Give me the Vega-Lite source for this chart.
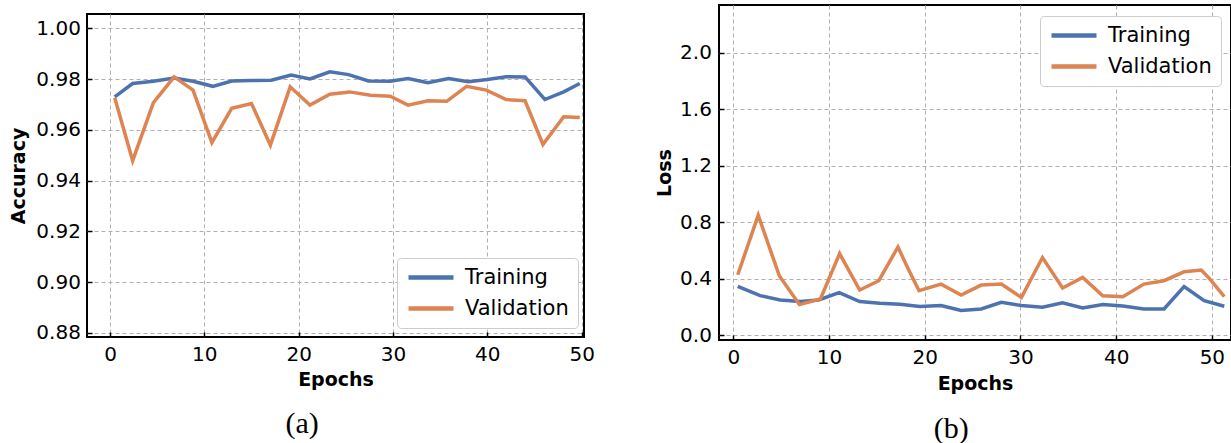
{
  "$schema": "https://vega.github.io/schema/vega-lite/v6.json",
  "padding": {"left": 8, "top": 4, "right": 0, "bottom": 0},
  "spacing": 58,
  "config": {
    "view": {"stroke": "#000000", "strokeWidth": 2},
    "axis": {
      "labelFont": "DejaVu Sans", "labelFontSize": 20, "labelColor": "#000000",
      "titleFont": "DejaVu Sans", "titleFontSize": 19, "titleFontWeight": "bold", "titleColor": "#000000",
      "gridColor": "#b0b0b0", "gridDash": [4, 3], "gridWidth": 1,
      "domain": false, "tickColor": "#000000", "tickSize": -5, "tickWidth": 1.5
    },
    "legend": {
      "symbolType": "stroke", "symbolSize": 2025, "symbolStrokeWidth": 4.5,
      "labelFont": "DejaVu Sans", "labelFontSize": 21, "labelColor": "#000000",
      "labelOffset": 9, "clipHeight": 21, "rowPadding": 9, "padding": 9,
      "fillColor": "#ffffff", "strokeColor": "#cccccc", "cornerRadius": 4
    },
    "title": {"font": "Liberation Serif", "fontSize": 30, "fontWeight": "normal", "color": "#000000", "anchor": "middle", "frame": "bounds"}
  },
  "resolve": {"scale": {"color": "independent"}, "legend": {"color": "independent"}},
  "hconcat": [
    {
      "spacing": 7,
      "vconcat": [
        {
          "width": 497,
          "height": 1,
          "view": {"stroke": null},
          "data": {"values": []},
          "mark": "point"
        },
        {
          "width": 497,
          "height": 323,
          "title": {"text": "(a)", "orient": "bottom", "offset": 20},
          "data": {"values": [
            {"epoch": 0.5, "value": 0.9730, "series": "Training"},
            {"epoch": 2.4, "value": 0.9783, "series": "Training"},
            {"epoch": 4.6, "value": 0.9792, "series": "Training"},
            {"epoch": 6.8, "value": 0.9805, "series": "Training"},
            {"epoch": 8.8, "value": 0.9792, "series": "Training"},
            {"epoch": 10.9, "value": 0.9772, "series": "Training"},
            {"epoch": 12.9, "value": 0.9793, "series": "Training"},
            {"epoch": 15.0, "value": 0.9795, "series": "Training"},
            {"epoch": 17.1, "value": 0.9796, "series": "Training"},
            {"epoch": 19.2, "value": 0.9816, "series": "Training"},
            {"epoch": 21.2, "value": 0.9801, "series": "Training"},
            {"epoch": 23.3, "value": 0.9829, "series": "Training"},
            {"epoch": 25.3, "value": 0.9818, "series": "Training"},
            {"epoch": 27.4, "value": 0.9793, "series": "Training"},
            {"epoch": 29.7, "value": 0.9792, "series": "Training"},
            {"epoch": 31.6, "value": 0.9803, "series": "Training"},
            {"epoch": 33.7, "value": 0.9786, "series": "Training"},
            {"epoch": 35.9, "value": 0.9803, "series": "Training"},
            {"epoch": 38.0, "value": 0.9790, "series": "Training"},
            {"epoch": 40.0, "value": 0.9799, "series": "Training"},
            {"epoch": 42.0, "value": 0.9810, "series": "Training"},
            {"epoch": 44.0, "value": 0.9809, "series": "Training"},
            {"epoch": 46.1, "value": 0.9720, "series": "Training"},
            {"epoch": 48.1, "value": 0.9750, "series": "Training"},
            {"epoch": 49.8, "value": 0.9783, "series": "Training"},
            {"epoch": 0.5, "value": 0.9727, "series": "Validation"},
            {"epoch": 2.4, "value": 0.9479, "series": "Validation"},
            {"epoch": 4.6, "value": 0.9708, "series": "Validation"},
            {"epoch": 6.8, "value": 0.9809, "series": "Validation"},
            {"epoch": 8.8, "value": 0.9757, "series": "Validation"},
            {"epoch": 10.8, "value": 0.9550, "series": "Validation"},
            {"epoch": 12.9, "value": 0.9685, "series": "Validation"},
            {"epoch": 15.0, "value": 0.9704, "series": "Validation"},
            {"epoch": 17.0, "value": 0.9540, "series": "Validation"},
            {"epoch": 19.1, "value": 0.9770, "series": "Validation"},
            {"epoch": 21.2, "value": 0.9698, "series": "Validation"},
            {"epoch": 23.3, "value": 0.9741, "series": "Validation"},
            {"epoch": 25.4, "value": 0.9750, "series": "Validation"},
            {"epoch": 27.6, "value": 0.9737, "series": "Validation"},
            {"epoch": 29.7, "value": 0.9733, "series": "Validation"},
            {"epoch": 31.6, "value": 0.9698, "series": "Validation"},
            {"epoch": 33.7, "value": 0.9715, "series": "Validation"},
            {"epoch": 35.7, "value": 0.9713, "series": "Validation"},
            {"epoch": 37.8, "value": 0.9772, "series": "Validation"},
            {"epoch": 39.9, "value": 0.9757, "series": "Validation"},
            {"epoch": 42.0, "value": 0.9720, "series": "Validation"},
            {"epoch": 44.0, "value": 0.9715, "series": "Validation"},
            {"epoch": 45.9, "value": 0.9543, "series": "Validation"},
            {"epoch": 48.1, "value": 0.9652, "series": "Validation"},
            {"epoch": 49.8, "value": 0.9649, "series": "Validation"}
          ]},
          "mark": {"type": "line", "strokeWidth": 3.5, "clip": true},
          "encoding": {
            "x": {"field": "epoch", "type": "quantitative",
              "scale": {"domain": [-2.44, 50.25], "nice": false, "zero": false},
              "axis": {"values": [0, 10, 20, 30, 40, 50], "title": "Epochs", "labelPadding": 12, "titlePadding": 6}},
            "y": {"field": "value", "type": "quantitative",
              "scale": {"domain": [0.8784, 1.0057], "nice": false, "zero": false},
              "axis": {"values": [0.88, 0.9, 0.92, 0.94, 0.96, 0.98, 1.0], "format": ".2f", "title": "Accuracy", "labelPadding": 11.6, "titlePadding": 7}},
            "color": {"field": "series", "type": "nominal",
              "scale": {"domain": ["Training", "Validation"], "range": ["#4c72b0", "#dd8452"]},
              "legend": {"orient": "none", "legendX": 310, "legendY": 253, "title": null}}
          }
        }
      ]
    },
    {
      "width": 512,
      "height": 335,
      "title": {"text": "(b)", "orient": "bottom", "offset": 20, "dx": 8},
      "data": {"values": [
        {"epoch": 0.46, "value": 0.345, "series": "Training"},
        {"epoch": 2.8, "value": 0.279, "series": "Training"},
        {"epoch": 4.9, "value": 0.249, "series": "Training"},
        {"epoch": 7.0, "value": 0.237, "series": "Training"},
        {"epoch": 8.9, "value": 0.249, "series": "Training"},
        {"epoch": 11.06, "value": 0.300, "series": "Training"},
        {"epoch": 13.2, "value": 0.237, "series": "Training"},
        {"epoch": 15.3, "value": 0.225, "series": "Training"},
        {"epoch": 17.4, "value": 0.218, "series": "Training"},
        {"epoch": 19.5, "value": 0.202, "series": "Training"},
        {"epoch": 21.7, "value": 0.209, "series": "Training"},
        {"epoch": 23.8, "value": 0.174, "series": "Training"},
        {"epoch": 25.9, "value": 0.185, "series": "Training"},
        {"epoch": 28.0, "value": 0.232, "series": "Training"},
        {"epoch": 30.1, "value": 0.209, "series": "Training"},
        {"epoch": 32.3, "value": 0.197, "series": "Training"},
        {"epoch": 34.4, "value": 0.228, "series": "Training"},
        {"epoch": 36.5, "value": 0.192, "series": "Training"},
        {"epoch": 38.6, "value": 0.216, "series": "Training"},
        {"epoch": 40.7, "value": 0.206, "series": "Training"},
        {"epoch": 42.9, "value": 0.185, "series": "Training"},
        {"epoch": 45.0, "value": 0.185, "series": "Training"},
        {"epoch": 47.1, "value": 0.343, "series": "Training"},
        {"epoch": 49.2, "value": 0.244, "series": "Training"},
        {"epoch": 51.3, "value": 0.204, "series": "Training"},
        {"epoch": 0.46, "value": 0.427, "series": "Validation"},
        {"epoch": 2.6, "value": 0.849, "series": "Validation"},
        {"epoch": 4.8, "value": 0.420, "series": "Validation"},
        {"epoch": 6.9, "value": 0.216, "series": "Validation"},
        {"epoch": 9.1, "value": 0.256, "series": "Validation"},
        {"epoch": 11.1, "value": 0.577, "series": "Validation"},
        {"epoch": 13.2, "value": 0.319, "series": "Validation"},
        {"epoch": 15.2, "value": 0.385, "series": "Validation"},
        {"epoch": 17.2, "value": 0.624, "series": "Validation"},
        {"epoch": 18.2, "value": 0.479, "series": "Validation"},
        {"epoch": 19.4, "value": 0.314, "series": "Validation"},
        {"epoch": 21.7, "value": 0.361, "series": "Validation"},
        {"epoch": 23.8, "value": 0.284, "series": "Validation"},
        {"epoch": 25.9, "value": 0.354, "series": "Validation"},
        {"epoch": 28.0, "value": 0.361, "series": "Validation"},
        {"epoch": 30.1, "value": 0.267, "series": "Validation"},
        {"epoch": 32.3, "value": 0.549, "series": "Validation"},
        {"epoch": 34.4, "value": 0.333, "series": "Validation"},
        {"epoch": 36.5, "value": 0.408, "series": "Validation"},
        {"epoch": 38.6, "value": 0.279, "series": "Validation"},
        {"epoch": 40.7, "value": 0.272, "series": "Validation"},
        {"epoch": 42.9, "value": 0.361, "series": "Validation"},
        {"epoch": 45.0, "value": 0.385, "series": "Validation"},
        {"epoch": 47.1, "value": 0.448, "series": "Validation"},
        {"epoch": 48.9, "value": 0.460, "series": "Validation"},
        {"epoch": 49.8, "value": 0.396, "series": "Validation"},
        {"epoch": 51.3, "value": 0.272, "series": "Validation"}
      ]},
      "mark": {"type": "line", "strokeWidth": 3.5, "clip": true},
      "encoding": {
        "x": {"field": "epoch", "type": "quantitative",
          "scale": {"domain": [-1.5, 52.0], "nice": false, "zero": false},
          "axis": {"values": [0, 10, 20, 30, 40, 50], "title": "Epochs", "labelPadding": 12, "titlePadding": 7.7}},
        "y": {"field": "value", "type": "quantitative",
          "scale": {"domain": [-0.035, 2.338], "nice": false, "zero": false},
          "axis": {"values": [0, 0.4, 0.8, 1.2, 1.6, 2.0], "format": ".1f", "title": "Loss", "labelPadding": 12.6, "titlePadding": 5}},
        "color": {"field": "series", "type": "nominal",
          "scale": {"domain": ["Training", "Validation"], "range": ["#4c72b0", "#dd8452"]},
          "legend": {"orient": "none", "legendX": 321, "legendY": 11, "title": null}}
      }
    }
  ]
}
